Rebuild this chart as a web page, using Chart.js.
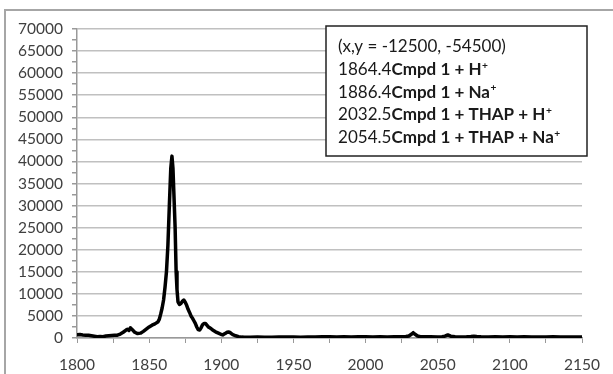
<!DOCTYPE html>
<html>
<head>
<meta charset="utf-8">
<script src="https://cdn.jsdelivr.net/npm/chart.js@4"></script>
<style>
  html, body { margin: 0; padding: 0; background: #fff; }
  #wrap { width: 613px; height: 374px; position: relative; }
</style>
</head>
<body>
<div id="wrap"><canvas id="myChart" width="613" height="374"></canvas></div>
<script>
// m/z values and intensities
const mz = [
  1800, 1802, 1804, 1806, 1808, 1810, 1812, 1814, 1816, 1818,
  1820, 1822, 1824, 1826, 1828, 1830, 1832, 1834, 1835, 1836,
  1837, 1838, 1840, 1842, 1844, 1846, 1848, 1850, 1852, 1854,
  1856, 1857, 1858, 1859, 1860, 1861, 1862, 1863, 1864, 1865,
  1865.8, 1866.5, 1867, 1868, 1868.7, 1869.3, 1870, 1871, 1872, 1873,
  1874, 1875, 1876, 1877, 1878, 1879, 1880, 1881, 1882, 1883,
  1884, 1885, 1886, 1887, 1888, 1889, 1890, 1891, 1892, 1893,
  1894, 1896, 1898, 1900, 1901, 1902, 1903, 1904, 1905, 1906,
  1907, 1908, 1910, 1912, 1914, 1916, 1920, 1925, 1930, 1935,
  1940, 1945, 1950, 1955, 1960, 1965, 1970, 1975, 1980, 1985,
  1990, 1995, 2000, 2005, 2010, 2015, 2020, 2025, 2028, 2030,
  2032, 2033, 2034, 2036, 2038, 2040, 2045, 2050, 2053, 2055,
  2057, 2059, 2062, 2065, 2070, 2073, 2075, 2077, 2080, 2085,
  2090, 2095, 2100, 2105, 2110, 2115, 2120, 2125, 2130, 2135,
  2140, 2145, 2150
]
const intensity = [
  750, 800, 700, 650, 600, 500, 400, 300, 350, 300,
  450, 500, 550, 600, 650, 900, 1300, 1800, 2000, 1700,
  2300, 2000, 1300, 1000, 1100, 1500, 2000, 2500, 2900, 3200,
  3600, 4200, 5400, 6800, 8600, 11500, 15000, 21000, 30000, 38500,
  41200, 38500, 34000, 25000, 15000, 11000, 8200, 7600, 7800, 8300,
  8600, 8100, 7400, 6500, 5800, 5000, 4500, 3900, 3300, 2500,
  1900, 1800, 2300, 3000, 3300, 3300, 2900, 2500, 2300, 2100,
  1800, 1400, 1100, 800, 700, 900, 1100, 1300, 1350, 1250,
  1000, 750, 500, 300, 200, 150, 150, 200, 150, 180,
  250, 200, 230, 180, 250, 220, 260, 300, 240, 280,
  230, 260, 300, 250, 280, 230, 270, 300, 320, 450,
  900, 1200, 900, 450, 300, 260, 280, 250, 300, 420,
  700, 420, 280, 250, 260, 330, 400, 320, 260, 230,
  270, 240, 280, 230, 260, 220, 250, 230, 270, 220,
  250, 230, 250
]

// y ticks and x ticks
const yMax = 70000
const yMajor = 5000
const yMinor = 2500
const xMin = 1800
const xMax = 2150
const xMajor = 50
const xMinor = 25

// annotation box text
const boxHeader = '(x,y = -12500, -54500)'
const peakMasses = ['1864.4', '1886.4', '2032.5', '2054.5']
const peakLabels = ['Cmpd 1 + H', 'Cmpd 1 + Na', 'Cmpd 1 + THAP + H', 'Cmpd 1 + THAP + Na']

const FONT = 'Lato, "Open Sans", sans-serif'

const frame = {
  id: 'frame',
  beforeDraw(chart) {
    const c = chart.ctx
    c.save()
    c.strokeStyle = '#a6a6a6'
    c.lineWidth = 2
    c.beginPath()
    c.moveTo(5, 380)
    c.lineTo(5, 10)
    c.lineTo(620, 10)
    c.stroke()
    c.restore()
  }
}

const annoBox = {
  id: 'annoBox',
  afterDraw(chart) {
    const c = chart.ctx
    const x0 = 326, y0 = 26, w = 261, h = 130
    c.save()
    c.fillStyle = '#fff'
    c.fillRect(x0, y0, w, h)
    c.strokeStyle = '#222'
    c.lineWidth = 1.5
    c.strokeRect(x0, y0, w, h)
    // fit the font so the header line is as wide as in the picture
    c.font = '16px ' + FONT
    const size = 16 * 168 / c.measureText(boxHeader).width
    c.fillStyle = '#1a1a1a'
    c.textBaseline = 'middle'
    const tx = 338
    let ty = 47
    const step = 22.6
    c.font = size + 'px ' + FONT
    c.fillText(boxHeader, tx, ty)
    peakMasses.forEach((m, i) => {
      ty += step
      let x = tx
      c.font = size + 'px ' + FONT
      c.fillText(m, x, ty)
      x += c.measureText(m).width
      c.font = 'bold ' + size + 'px ' + FONT
      c.fillText(peakLabels[i], x, ty)
      x += c.measureText(peakLabels[i]).width
      c.font = 'bold ' + (size * 0.6) + 'px ' + FONT
      c.fillText('+', x + 0.5, ty - 4)
    })
    c.restore()
  }
}

const ctx = document.getElementById('myChart').getContext('2d')
const chart = new Chart(ctx, {
  type: 'line',
  data: {
    datasets: [
      {
        data: mz.map((x, i) => ({ x: x, y: intensity[i] })),
        borderColor: '#000',
        borderWidth: 3.5,
        borderJoinStyle: 'round',
        borderCapStyle: 'round',
        pointRadius: 0,
        tension: 0,
        fill: false,
      },
    ],
  },
  options: {
    responsive: false,
    animation: false,
    layout: { padding: { top: 29, right: 25, left: 0, bottom: 0 } },
    plugins: { legend: { display: false }, tooltip: { enabled: false } },
    scales: {
      x: {
        type: 'linear',
        min: xMin,
        max: xMax,
        afterFit(scale) { scale.height = 36 },
        afterBuildTicks(scale) {
          const t = []
          for (let v = xMin; v <= xMax; v += xMinor) t.push({ value: v })
          scale.ticks = t
        },
        ticks: {
          autoSkip: false,
          maxRotation: 0,
          padding: 13,
          color: '#404040',
          font: { family: FONT, size: 15.5 },
          callback: (v) => (v % xMajor === 0 ? String(v) : ''),
        },
        grid: {
          drawOnChartArea: false,
          tickLength: 5,
          tickColor: '#999',
        },
        border: { color: '#999', width: 1.5 },
      },
      y: {
        min: 0,
        max: yMax,
        afterFit(scale) { scale.width = 77 },
        afterBuildTicks(scale) {
          const t = []
          for (let v = 0; v <= yMax; v += yMinor) t.push({ value: v })
          scale.ticks = t
        },
        ticks: {
          autoSkip: false,
          padding: 9,
          color: '#404040',
          font: { family: FONT, size: 15.5 },
          callback: (v) => (v % yMajor === 0 ? String(v) : ''),
        },
        grid: {
          color: (c) => (c.tick && c.tick.value % yMajor === 0 ? '#c0c0c0' : 'rgba(0,0,0,0)'),
          lineWidth: 1.5,
          tickLength: 5,
          tickColor: '#999',
        },
        border: { color: '#999', width: 1.5 },
      },
    },
  },
  plugins: [frame, annoBox],
})
</script>
</body>
</html>
